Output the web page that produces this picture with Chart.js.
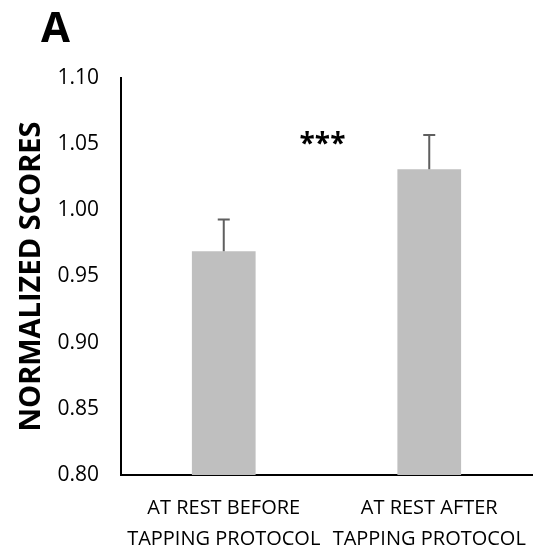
<!DOCTYPE html>
<html>
<head>
<meta charset="utf-8">
<script src="https://cdn.jsdelivr.net/npm/chart.js@4.4.1/dist/chart.umd.min.js"></script>
<style>
  html, body { margin: 0; padding: 0; background: #ffffff; }
  #wrap { width: 534px; height: 551px; position: relative; }
</style>
</head>
<body>
<div id="wrap"><canvas id="chart"></canvas></div>
<script>
// Conditions compared
const categories = [
  ["AT REST BEFORE", "TAPPING PROTOCOL"],
  ["AT REST AFTER", "TAPPING PROTOCOL"]
];
// Mean normalized scores and their error (upper whisker)
const meanScores = [0.969, 1.031];
const errorValues = [0.024, 0.026];
// Y axis ticks
const yTicks = [0.80, 0.85, 0.90, 0.95, 1.00, 1.05, 1.10];
const panelLetter = "A";
const significance = "***";
const significanceLevel = 1.055;

const FONT = "'Open Sans', 'Noto Sans', sans-serif";

// Draws text with its ink box centred on (x, y)
function drawCentred(ctx, text, x, y) {
  const m = ctx.measureText(text);
  const h = m.actualBoundingBoxAscent + m.actualBoundingBoxDescent;
  ctx.textAlign = 'center';
  ctx.textBaseline = 'alphabetic';
  ctx.fillText(text, x, y + m.actualBoundingBoxAscent - h / 2);
}

// Upper error whiskers, panel letter and significance marker
const extrasPlugin = {
  id: 'extras',
  afterDatasetsDraw(chart) {
    const ctx = chart.ctx;
    const y = chart.scales.y;
    const meta = chart.getDatasetMeta(0);
    ctx.save();
    ctx.strokeStyle = '#5f5f5f';
    ctx.lineWidth = 2;
    meta.data.forEach((bar, i) => {
      const top = y.getPixelForValue(meanScores[i]);
      const end = y.getPixelForValue(meanScores[i] + errorValues[i]);
      ctx.beginPath();
      ctx.moveTo(bar.x, top);
      ctx.lineTo(bar.x, end);
      ctx.moveTo(bar.x - 6, end);
      ctx.lineTo(bar.x + 6, end);
      ctx.stroke();
    });
    // significance stars between the two bars
    const xMid = (meta.data[0].x + meta.data[1].x) / 2;
    ctx.fillStyle = '#000000';
    ctx.font = `bold 28px ${FONT}`;
    drawCentred(ctx, significance, xMid - 4, y.getPixelForValue(significanceLevel));
    // panel letter
    ctx.font = `bold 42px ${FONT}`;
    ctx.textAlign = 'left';
    ctx.textBaseline = 'alphabetic';
    ctx.fillText(panelLetter, 41, 42);
    ctx.restore();
  }
};

new Chart(document.getElementById('chart'), {
  type: 'bar',
  data: {
    labels: categories,
    datasets: [{
      data: meanScores,
      backgroundColor: '#bfbfbf',
      borderWidth: 0,
      categoryPercentage: 1.0,
      barPercentage: 0.31
    }]
  },
  options: {
    responsive: true,
    maintainAspectRatio: false,
    animation: false,
    layout: { padding: { top: 78, right: 2, left: 0, bottom: 0 } },
    plugins: {
      legend: { display: false },
      tooltip: { enabled: false }
    },
    scales: {
      x: {
        grid: { display: false, drawTicks: false },
        border: { display: true, color: '#000000', width: 2 },
        ticks: {
          color: '#000000',
          font: { family: FONT, size: 20, lineHeight: 1.55 },
          padding: 18,
          maxRotation: 0,
          autoSkip: false
        },
        afterFit(scale) {
          scale.height = 76;
          // labels may overhang the plot edges; keep the plot full width
          scale.paddingLeft = 0;
          scale.paddingRight = 0;
        }
      },
      y: {
        min: yTicks[0],
        max: yTicks[yTicks.length - 1],
        afterBuildTicks(scale) {
          scale.ticks = yTicks.map(v => ({ value: v }));
        },
        grid: { display: false, drawTicks: false },
        border: { display: true, color: '#000000', width: 2 },
        ticks: {
          color: '#000000',
          font: { family: FONT, size: 21 },
          padding: 22,
          callback: v => Number(v).toFixed(2)
        },
        title: {
          display: true,
          text: 'NORMALIZED SCORES',
          color: '#000000',
          font: { family: FONT, size: 29, weight: 'bold', lineHeight: 1.2 },
          padding: { top: 14, bottom: 0 }
        },
        afterFit(scale) { scale.width = 121; }
      }
    }
  },
  plugins: [extrasPlugin]
});
</script>
</body>
</html>
